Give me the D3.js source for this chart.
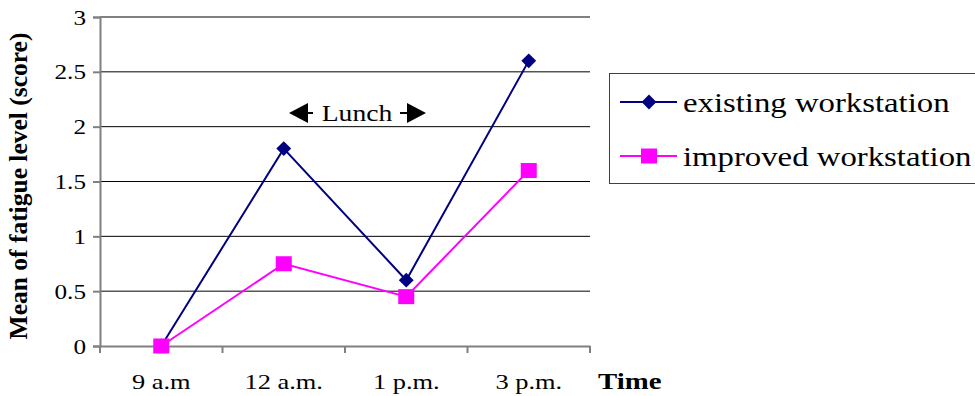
<!DOCTYPE html>
<html><head><meta charset="utf-8">
<script src="https://cdn.jsdelivr.net/npm/d3@7"></script>
<style>body{margin:0;background:#fff}svg{display:block;font-family:"Liberation Serif","Times New Roman",serif}</style>
</head><body>
<svg id="c" width="975" height="396"></svg>
<script>
const categories = ["9 a.m", "12 a.m.", "1 p.m.", "3 p.m."];
const existing = [0, 1.8, 0.6, 2.6];
const improved = [0, 0.75, 0.45, 1.6];
const yTicks = [0, 0.5, 1, 1.5, 2, 2.5, 3];
const seriesNames = ["existing workstation", "improved workstation"];

const S = 1.2; // horizontal stretch of text in reference
const svg = d3.select("#c");
const L = 100, R = 590, T = 17, B = 346;
const x = d3.scaleBand().domain(categories).range([L, R]).padding(0);
const y = d3.scaleLinear().domain([0, 3]).range([B, T]);

// gridlines
svg.append("g").selectAll("line").data(yTicks.filter(d => d > 0 && d < 3)).join("line")
  .attr("x1", L).attr("x2", R).attr("y1", d => y(d)).attr("y2", d => y(d))
  .attr("stroke", "#000").attr("stroke-width", 1);
svg.append("line").attr("x1", L).attr("x2", R).attr("y1", y(3)).attr("y2", y(3))
  .attr("stroke", "#808080").attr("stroke-width", 2);

// y axis
const ya = svg.append("g").attr("transform", `translate(${L},0)`)
  .call(d3.axisLeft(y).tickValues(yTicks).tickSize(7).tickFormat(d3.format("")));
ya.select(".domain").attr("stroke", "#808080").attr("stroke-width", 2);
ya.selectAll(".tick line").attr("stroke", "#808080").attr("stroke-width", 2);
ya.selectAll("text").attr("font-size", 21).attr("font-family", "Liberation Serif").attr("fill", "#000")
  .attr("x", -14 / S).attr("dy", "0.34em").attr("transform", `scale(${S},1)`);

// x axis
const xa = svg.append("g").attr("transform", `translate(0,${B})`)
  .call(d3.axisBottom(x).tickSize(0));
xa.select(".domain").attr("stroke", "#808080").attr("stroke-width", 2);
xa.selectAll("text").attr("font-size", 22).attr("font-family", "Liberation Serif").attr("fill", "#000")
  .attr("y", 43).attr("dy", 0).attr("transform", `scale(${S},1)`);
const bounds = categories.map(c => x(c)).concat([R]);
svg.append("g").selectAll("line").data(bounds).join("line")
  .attr("x1", d => d).attr("x2", d => d).attr("y1", B).attr("y2", B + 7)
  .attr("stroke", "#808080").attr("stroke-width", 2);

// axis titles
svg.append("text").attr("transform", `translate(27,${186}) rotate(-90)`)
  .attr("text-anchor", "middle").attr("font-weight", "bold").attr("font-size", 25.5).text("Mean of fatigue level (score)");
svg.append("text").attr("transform", `translate(598,389) scale(${S},1)`).attr("font-weight", "bold").attr("font-size", 24).text("Time");

// lines
const cx = c => x(c) + x.bandwidth() / 2;
const line = d3.line().x((d, i) => cx(categories[i])).y(d => y(d));
svg.append("path").datum(existing).attr("d", line).attr("fill", "none").attr("stroke", "#000080").attr("stroke-width", 2);
svg.append("path").datum(improved).attr("d", line).attr("fill", "none").attr("stroke", "#FF00FF").attr("stroke-width", 2);

const diamond = d3.symbol().type(d3.symbolSquare).size(110);
svg.append("g").selectAll("path").data(existing).join("path")
  .attr("d", diamond).attr("transform", (d, i) => `translate(${cx(categories[i])},${y(d)}) rotate(45)`)
  .attr("fill", "#000080");
svg.append("g").selectAll("rect").data(improved).join("rect")
  .attr("x", (d, i) => cx(categories[i]) - 8).attr("y", d => y(d) - 7.5).attr("width", 16).attr("height", 15)
  .attr("fill", "#FF00FF");

// Lunch annotation
const ly = 113;
const ann = svg.append("g");
ann.append("line").attr("x1", 300).attr("x2", 313).attr("y1", ly).attr("y2", ly).attr("stroke", "#000").attr("stroke-width", 2);
ann.append("path").attr("d", `M289,${ly} L308,${ly - 10} L308,${ly + 10} Z`).attr("fill", "#000");
ann.append("line").attr("x1", 400).attr("x2", 412).attr("y1", ly).attr("y2", ly).attr("stroke", "#000").attr("stroke-width", 2);
ann.append("path").attr("d", `M426,${ly} L407,${ly - 10} L407,${ly + 10} Z`).attr("fill", "#000");
ann.append("text").attr("transform", `translate(357,${ly + 8}) scale(${S},1)`).attr("text-anchor", "middle").attr("font-size", 23).text("Lunch");

// legend
const lg = svg.append("g");
lg.append("rect").attr("x", 609.5).attr("y", 73.5).attr("width", 380).attr("height", 110)
  .attr("fill", "#fff").attr("stroke", "#404040").attr("stroke-width", 1);
const lys = [102, 156];
lg.append("line").attr("x1", 620).attr("x2", 677).attr("y1", lys[0]).attr("y2", lys[0]).attr("stroke", "#000080").attr("stroke-width", 2);
lg.append("path").attr("d", diamond).attr("transform", `translate(649,${lys[0]}) rotate(45)`).attr("fill", "#000080");
lg.append("line").attr("x1", 620).attr("x2", 677).attr("y1", lys[1]).attr("y2", lys[1]).attr("stroke", "#FF00FF").attr("stroke-width", 2);
lg.append("rect").attr("x", 641).attr("y", lys[1] - 7.5).attr("width", 16).attr("height", 15).attr("fill", "#FF00FF");
lg.selectAll("text.lt").data(seriesNames).join("text").attr("class", "lt")
  .attr("transform", (d, i) => `translate(683,${lys[i] + 10}) scale(1.17,1)`).attr("font-size", 28).text(d => d);
</script>
</body></html>
